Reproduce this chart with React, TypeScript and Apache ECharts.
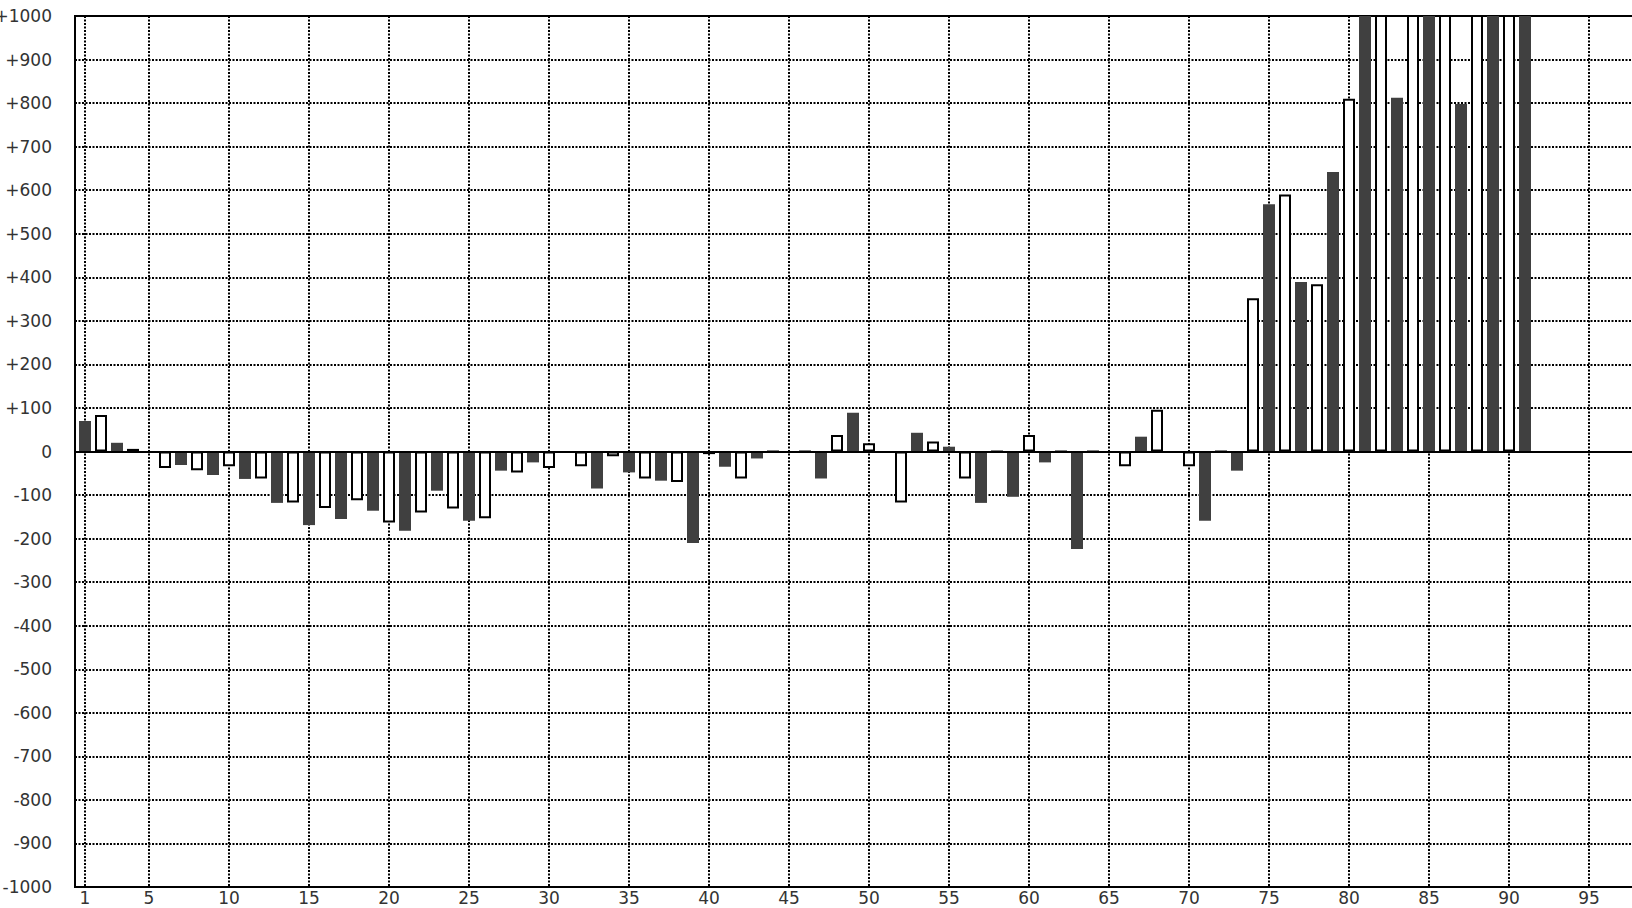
import React, { useEffect, useRef } from "react";
import * as echarts from "echarts";

// Odd categories are drawn as dark bars, even categories as white (outlined) bars.
const darkCategories = [
  1, 3, 5, 7, 9, 11, 13, 15, 17, 19, 21, 23, 25, 27, 29, 31, 33, 35, 37, 39, 41, 43, 45,
  47, 49, 51, 53, 55, 57, 59, 61, 63, 65, 67, 69, 71, 73, 75, 77, 79, 81, 83, 85, 87, 89, 91,
];
const darkValues = [
  70, 20, 1, -31, -54, -63, -118, -169, -155, -136, -182, -90, -159, -44, -25, 0, -85, -48,
  -67, -210, -35, -16, 0, -62, 89, 0, 43, 11, -118, -104, -25, -224, 0, 34, 0, -159, -44, 568,
  389, 642, 1180, 812, 1250, 798, 1220, 1300,
];

const whiteCategories = [
  2, 4, 6, 8, 10, 12, 14, 16, 18, 20, 22, 24, 26, 28, 30, 32, 34, 36, 38, 40, 42, 44, 46, 48,
  50, 52, 54, 56, 58, 60, 62, 64, 66, 68, 70, 72, 74, 76, 78, 80, 82, 84, 86, 88, 90,
];
const whiteValues = [
  84, 6, -38, -43, -34, -62, -117, -130, -112, -163, -140, -131, -153, -48, -38, -34, -11, -62,
  -70, -6, -62, 0, 0, 38, 19, -117, 23, -62, 0, 38, 0, 0, -34, 96, -34, 0, 352, 590, 384, 810,
  1150, 1210, 1270, 1190, 1240,
];

const xTickValues = [1, 5, 10, 15, 20, 25, 30, 35, 40, 45, 50, 55, 60, 65, 70, 75, 80, 85, 90, 95];

const FONT = "DejaVu Sans";

export default function App() {
  const ref = useRef<HTMLDivElement>(null);

  useEffect(() => {
    if (!ref.current) return;
    const chart = echarts.init(ref.current, null, { renderer: "svg" });
    const gridLine = { color: "#000", width: 2, type: [2, 1.5] as any };
    chart.setOption({
      animation: false,
      backgroundColor: "#fff",
      grid: {
        left: 75,
        top: 16,
        width: 1600,
        height: 871,
        show: true,
        borderColor: "#000",
        borderWidth: 2,
        backgroundColor: "transparent",
        containLabel: false,
        outerBoundsMode: "none",
      },
      xAxis: {
        type: "value",
        min: 0.375,
        max: 100.375,
        axisLine: { show: false },
        axisTick: { show: false, customValues: xTickValues },
        axisLabel: {
          customValues: xTickValues,
          formatter: (v: number) => String(v),
          fontSize: 17,
          fontFamily: FONT,
          color: "#333",
          margin: 2,
        },
        splitLine: { show: true, lineStyle: gridLine },
      },
      yAxis: {
        type: "value",
        min: -1000,
        max: 1000,
        interval: 100,
        axisLine: { show: false },
        axisTick: { show: false },
        axisLabel: {
          formatter: (v: number) => (v > 0 ? "+" + v : String(v)),
          fontSize: 17,
          fontFamily: FONT,
          color: "#333",
          margin: 23,
        },
        splitLine: { show: true, lineStyle: gridLine },
      },
      series: [
        {
          type: "bar",
          name: "dark",
          data: darkCategories.map((c, i) => [c, darkValues[i]]),
          barWidth: 12,
          barGap: "-100%",
          clip: true,
          itemStyle: { color: "#404040" },
          markLine: {
            silent: true,
            symbol: "none",
            label: { show: false },
            lineStyle: { color: "#000", width: 2, type: "solid" },
            data: [{ yAxis: 0 }],
          },
        },
        {
          type: "bar",
          name: "white",
          data: whiteCategories.map((c, i) => [c, whiteValues[i]]),
          barWidth: 12,
          barGap: "-100%",
          clip: true,
          itemStyle: { color: "#fff", borderColor: "#000", borderWidth: 2 },
        },
      ],
    });
    return () => chart.dispose();
  }, []);

  return (
    <div
      style={{
        position: "fixed",
        left: 0,
        top: 0,
        width: 1632,
        height: 908,
        overflow: "hidden",
        background: "#fff",
      }}
    >
      <div ref={ref} style={{ width: 1700, height: 908 }} />
    </div>
  );
}
